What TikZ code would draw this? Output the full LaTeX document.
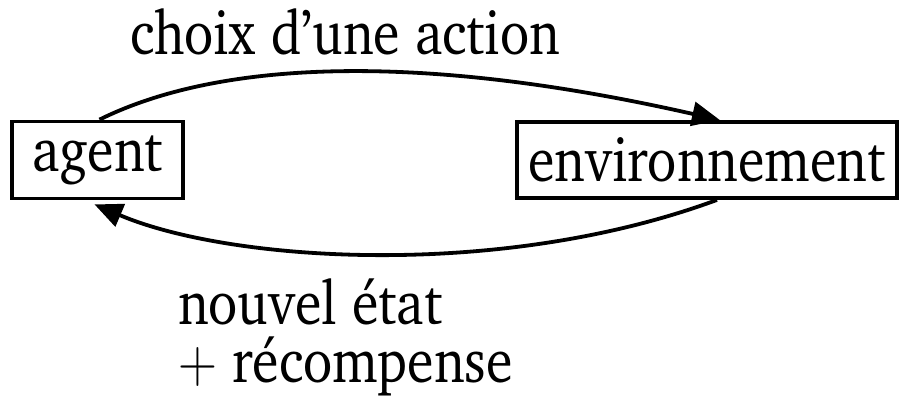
\documentclass[tikz,border=0pt]{standalone}
\usepackage{fix-cm}
\usepackage[T1]{fontenc}
\usepackage{charter}
\usepackage{graphicx}
\usetikzlibrary{arrows.meta}
\newcommand{\bigfont}{\fontsize{54}{64}\selectfont}
\newcommand{\tall}[1]{\scalebox{1}[1.15]{#1}}
\tikzset{
  box/.style={draw, line width=3.8pt, inner sep=0pt, font=\bigfont},
  lbl/.style={inner sep=0pt, anchor=base west, font=\bigfont},
  arr/.style={line width=3.8pt, -{Triangle[length=28pt,width=24pt]}}
}
\begin{document}
\begin{tikzpicture}[x=1pt,y=-1pt]
\useasboundingbox (0,0) rectangle (908,397);
\node[box, minimum width=171pt, minimum height=77pt] (agent) at (97.5,160) {\tall{agent}};
\node[box, minimum width=380pt, minimum height=76pt] (env) at (707,160) {\tall{environnement}};
\node[lbl] (choix) at (130,54) {\tall{choix d'une action}};
\node[lbl] (etat) at (178,324) {\tall{nouvel état}};
\node[lbl] (rec) at (178,382) {\tall{$+$ récompense}};
\coordinate (a1) at ([xshift=2pt]agent.north);
\coordinate (e1) at ([xshift=13pt]env.north);
\coordinate (e2) at ([xshift=10pt]env.south);
\coordinate (a2) at ([xshift=-3pt,yshift=-4pt]agent.south);
\draw[arr] (a1) .. controls (220,60) and (420,52) .. (e1);
\draw[arr] (e2) .. controls (500,280) and (230,262) .. (a2);
\end{tikzpicture}
\end{document}
